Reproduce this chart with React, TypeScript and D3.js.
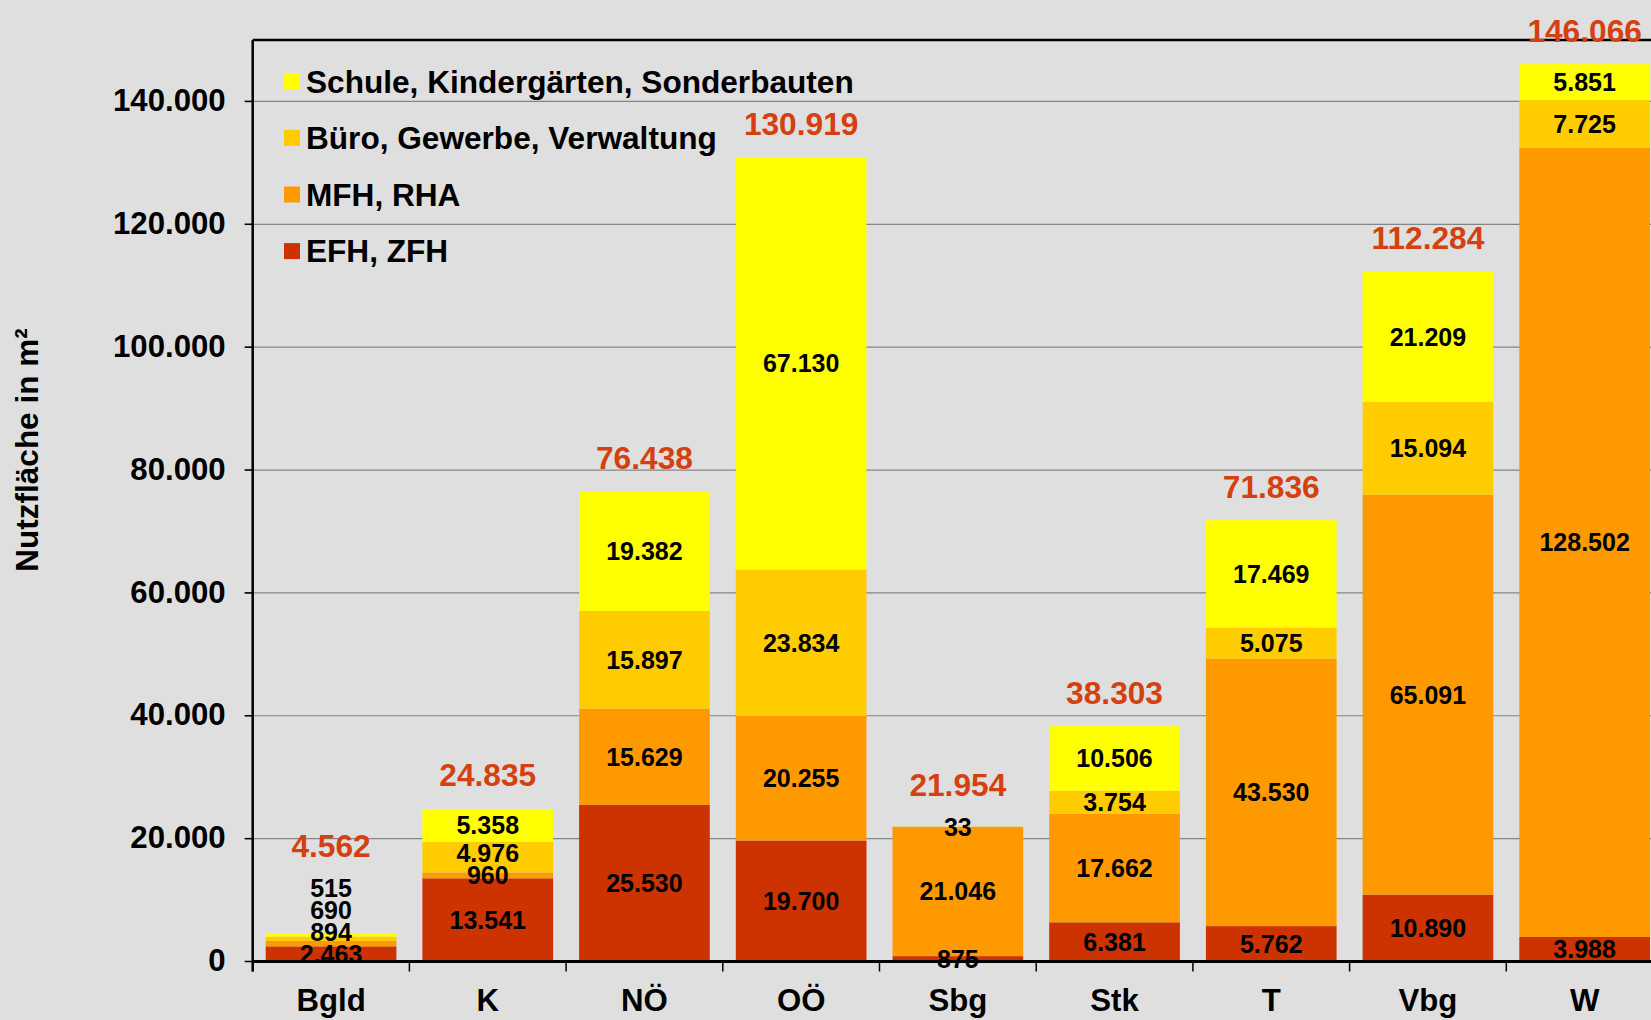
import React from "react";
import * as d3 from "d3";

const categories = ["Bgld", "K", "NÖ", "OÖ", "Sbg", "Stk", "T", "Vbg", "W"];
const seriesNames = ["EFH, ZFH", "MFH, RHA", "Büro, Gewerbe, Verwaltung", "Schule, Kindergärten, Sonderbauten"];
const seriesColors = ["#CC3300", "#FF9900", "#FFCC00", "#FFFF00"];
const efh = [2463, 13541, 25530, 19700, 875, 6381, 5762, 10890, 3988];
const mfh = [894, 960, 15629, 20255, 21046, 17662, 43530, 65091, 128502];
const buero = [690, 4976, 15897, 23834, 33, 3754, 5075, 15094, 7725];
const schule = [515, 5358, 19382, 67130, 0, 10506, 17469, 21209, 5851];
const yTicks = [0, 20000, 40000, 60000, 80000, 100000, 120000, 140000];
const yMax = 150000;
const yTitle = "Nutzfläche in m²";

const W = 1651;
const H = 1020;
const x0 = 252.7;
const step = 156.7;
const yTop = 40;
const yBottom = 961.5;
const FONT = "'Liberation Sans', Arial, Helvetica, sans-serif";
const BIG = 31.2;
const SMALL = 25;
const TOTAL_COLOR = "#D4400F";

const fmt = d3.formatLocale({ decimal: ",", thousands: ".", grouping: [3], currency: ["", "€"] }).format(",d");

export default function App() {
  const series = [efh, mfh, buero, schule];
  const rows = categories.map((c, i) => {
    const r: any = { cat: c };
    series.forEach((s, k) => (r["s" + k] = s[i]));
    return r;
  });
  const keys = series.map((_, k) => "s" + k);
  const stacked = d3.stack().keys(keys)(rows);

  const x = d3
    .scaleBand<string>()
    .domain(categories)
    .range([x0, x0 + step * categories.length])
    .paddingInner(0.166)
    .paddingOuter(0.083);
  const y = d3.scaleLinear().domain([0, yMax]).range([yBottom, yTop]);

  // label positions with simple bottom-up collision avoidance
  const gap = 22;
  const labels: { x: number; y: number; text: string }[] = [];
  const totals: { x: number; y: number; text: string }[] = [];
  categories.forEach((c, i) => {
    const cx = (x(c) as number) + x.bandwidth() / 2;
    let prev = Infinity;
    let topLabel = Infinity;
    stacked.forEach((layer) => {
      const d = layer[i];
      const v = d[1] - d[0];
      if (v <= 0) return;
      let ly = y((d[0] + d[1]) / 2);
      ly = Math.min(ly, prev - gap);
      prev = ly;
      topLabel = ly;
      labels.push({ x: cx, y: ly, text: fmt(v) });
    });
    const total = series.reduce((a, s) => a + s[i], 0);
    const ty = Math.min(y(total) - 34, topLabel - 42);
    totals.push({ x: cx, y: ty, text: fmt(total) });
  });

  const legendOrder = [3, 2, 1, 0];

  return (
    <div style={{ position: "absolute", left: 0, top: 0, width: W, height: H, overflow: "hidden" }}>
      <svg width={W} height={H} style={{ display: "block", background: "#dfdfdf" }} fontFamily={FONT}>
        <rect x={0} y={0} width={W} height={H} fill="#dfdfdf" />
        {/* gridlines */}
        {yTicks.filter((t) => t > 0).map((t) => (
          <line key={"g" + t} x1={x0 - 8} x2={W} y1={y(t)} y2={y(t)} stroke="#858585" strokeWidth={1.2} />
        ))}
        {/* bars */}
        {stacked.map((layer, k) => (
          <g key={"l" + k} fill={seriesColors[k]}>
            {layer.map((d, i) =>
              d[1] - d[0] > 0 ? (
                <rect
                  key={i}
                  x={x(categories[i])}
                  width={x.bandwidth()}
                  y={y(d[1])}
                  height={y(d[0]) - y(d[1])}
                />
              ) : null
            )}
          </g>
        ))}
        {/* frame */}
        <line x1={x0} x2={W} y1={yTop} y2={yTop} stroke="#000" strokeWidth={2.5} />
        <line x1={x0} x2={x0} y1={yTop} y2={yBottom + 10} stroke="#000" strokeWidth={2.5} />
        <line x1={x0} x2={W} y1={yBottom} y2={yBottom} stroke="#000" strokeWidth={3} />
        {yTicks.map((t) => (
          <line key={"yt" + t} x1={x0 - 8} x2={x0} y1={y(t)} y2={y(t)} stroke="#000" strokeWidth={1.5} />
        ))}
        {d3.range(categories.length + 1).map((i) => (
          <line key={"xt" + i} x1={x0 + i * step} x2={x0 + i * step} y1={yBottom} y2={yBottom + 10} stroke="#000" strokeWidth={1.5} />
        ))}
        {/* y tick labels */}
        {yTicks.map((t) => (
          <text key={"yl" + t} x={x0 - 27} y={y(t) - 1.5} dy="0.36em" textAnchor="end" fontSize={BIG} fontWeight="bold" fill="#000">
            {fmt(t)}
          </text>
        ))}
        {/* category labels */}
        {categories.map((c) => (
          <text key={"c" + c} x={(x(c) as number) + x.bandwidth() / 2} y={1011} textAnchor="middle" fontSize={BIG} fontWeight="bold" fill="#000">
            {c}
          </text>
        ))}
        {/* y title */}
        <text transform={`translate(38,450) rotate(-90)`} textAnchor="middle" fontSize={31.5} fontWeight="bold" fill="#000">
          {yTitle}
        </text>
        {/* segment labels */}
        {labels.map((l, i) => (
          <text key={"sl" + i} x={l.x} y={l.y} dy="0.36em" textAnchor="middle" fontSize={SMALL} fontWeight="bold" fill="#000">
            {l.text}
          </text>
        ))}
        {/* totals */}
        {totals.map((l, i) => (
          <text key={"tl" + i} x={l.x} y={l.y} dy="0.36em" textAnchor="middle" fontSize={BIG + 0.5} fontWeight="bold" fill={TOTAL_COLOR}>
            {l.text}
          </text>
        ))}
        {/* legend */}
        {legendOrder.map((k, j) => {
          const cy = 81.3 + j * 56.6;
          return (
            <g key={"lg" + k}>
              <rect x={284} y={cy - 8} width={16} height={16} fill={seriesColors[k]} />
              <text x={306} y={cy} dy="0.36em" fontSize={31.6} fontWeight="bold" fill="#000">
                {seriesNames[k]}
              </text>
            </g>
          );
        })}
      </svg>
    </div>
  );
}
